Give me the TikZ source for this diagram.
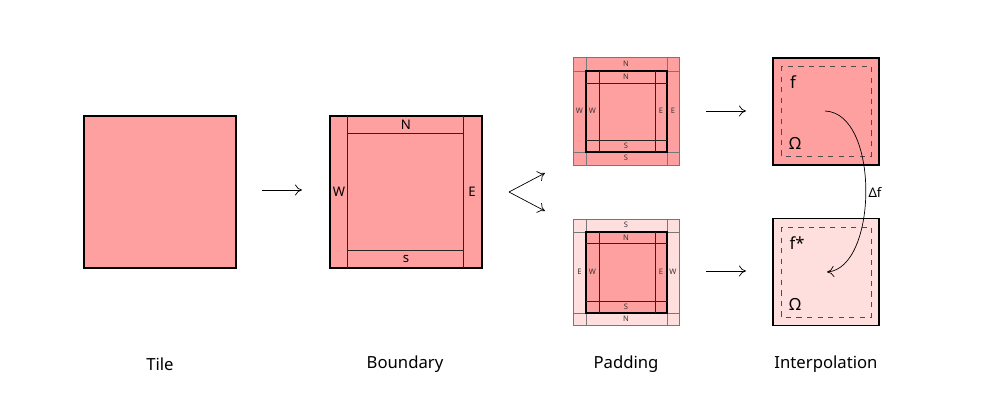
\documentclass[tikz,border=0pt]{standalone}
\usepackage{fontspec}
\setmainfont{Noto Sans}
\usepackage{xcolor}
\definecolor{tilered}{HTML}{FFA0A0}
\definecolor{palered}{HTML}{FFDEDE}
\definecolor{stripgray}{HTML}{777777}
\usepackage{tikz}
\usetikzlibrary{arrows.meta,calc}

\begin{document}
\begin{tikzpicture}[
  x=0.02cm, y=-0.02cm,
  font=\footnotesize,
  block/.style={draw, line width=1.1pt, fill=tilered, inner sep=0pt, outer sep=0pt},
  bigblock/.style={block, minimum width=3.04cm, minimum height=3.04cm},
  padblock/.style={block, minimum width=1.62cm, minimum height=1.62cm, fill=none},
  interblock/.style={block, minimum width=2.12cm, minimum height=2.14cm},
  inner/.style={line width=0.45pt, draw=black!85},
  outer/.style={line width=0.45pt, draw=stripgray},
  lab/.style={font=\fontsize{7.5}{9}\selectfont, inner sep=0pt},
  symlab/.style={font=\fontsize{9.5}{11}\selectfont, inner sep=0pt},
  tinylab/.style={font=\fontsize{4.3}{5}\selectfont, text=black!80, inner sep=0pt},
  caption/.style={font=\fontsize{9.5}{11}\selectfont},
  arr/.style={-{To[length=1.4mm,width=2.2mm]}, line width=0.4pt},
  omega/.style={draw=black!70, dashed, line width=0.5pt}
]
\useasboundingbox (0,0) rectangle (1000,400);

% tile
\node[bigblock] (tile) at (160,192) {};

% boundary
\node[bigblock] (bnd) at (406,192) {};
\draw[inner] ($(bnd.north west)+(17,0)$) -- ($(bnd.south west)+(17,0)$);
\draw[inner] ($(bnd.north east)+(-19,0)$) -- ($(bnd.south east)+(-19,0)$);
\draw[inner] ($(bnd.north west)+(17,17)$) -- ($(bnd.north east)+(-19,17)$);
\draw[inner] ($(bnd.south west)+(17,-18)$) -- ($(bnd.south east)+(-19,-18)$);
\node[lab] at ($(bnd.north)+(0,9)$) {N};
\node[lab] at ($(bnd.south)+(0,-9)$) {s};
\node[lab] at ($(bnd.west)+(9,0)$) {W};
\node[lab] at ($(bnd.east)+(-10,0)$) {E};

% padding, upper copy
\draw[outer, fill=tilered] (573,57) rectangle (679,165);
\draw[outer] (586,57) -- (586,165) (667,57) -- (667,165);
\draw[outer] (573,71) -- (679,71) (573,152) -- (679,152);
\node[padblock] (padA) at (626.5,111.5) {};
\draw[inner] (599,71) -- (599,152) (655,71) -- (655,152);
\draw[inner] (586,83) -- (667,83) (586,140) -- (667,140);
\node[tinylab] at (626,64) {N};
\node[tinylab] at (626,77) {N};
\node[tinylab] at (626,146) {S};
\node[tinylab] at (626,158) {S};
\node[tinylab] at (579.5,111) {W};
\node[tinylab] at (592.5,111) {W};
\node[tinylab] at (661,111) {E};
\node[tinylab] at (673,111) {E};

% padding, lower copy
\draw[outer, fill=palered] (573,219) rectangle (679,325);
\draw[outer] (586,219) -- (586,325) (667,219) -- (667,325);
\draw[outer] (573,232) -- (679,232) (573,313) -- (679,313);
\node[padblock, fill=tilered] (padB) at (626.5,272.5) {};
\draw[inner] (599,232) -- (599,313) (655,232) -- (655,313);
\draw[inner] (586,243) -- (667,243) (586,301) -- (667,301);
\node[tinylab] at (626,225) {S};
\node[tinylab] at (626,238) {N};
\node[tinylab] at (626,307) {S};
\node[tinylab] at (626,319) {N};
\node[tinylab] at (579.5,272) {E};
\node[tinylab] at (592.5,272) {W};
\node[tinylab] at (661,272) {E};
\node[tinylab] at (673,272) {W};

% interpolation
\node[interblock] (intA) at (826,111.5) {};
\node[interblock, fill=palered] (intB) at (826,272) {};
\draw[omega] (781,66) rectangle (871,156);
\draw[omega] (781,227) rectangle (871,317);
\node[symlab] at (793,82) {f};
\node[symlab] at (795,143) {Ω};
\node[symlab] at (797,243) {f*};
\node[symlab] at (795,304) {Ω};
\coordinate (fsrc) at (825,111);
\coordinate (fdst) at (827,272);
\draw[arr] (fsrc) .. controls (880,113) and (878,268) .. (fdst);
\node[lab] at (875,192) {Δf};

% arrows between stages
\coordinate (a1) at (262,190);
\coordinate (a2) at (302,190);
\draw[arr] (a1) -- (a2);
\coordinate (fork) at (509,192);
\coordinate (forkup) at (545,173);
\coordinate (forkdn) at (545,211);
\draw[arr] (fork) -- (forkup);
\draw[arr] (fork) -- (forkdn);
\coordinate (b1) at (706,111);
\coordinate (b2) at (746,111);
\draw[arr] (b1) -- (b2);
\coordinate (c1) at (706,271);
\coordinate (c2) at (746,271);
\draw[arr] (c1) -- (c2);

% captions
\node[caption] (capTile) at (160,364) {Tile};
\node[caption] (capBnd) at (405,364) {Boundary};
\node[caption] (capPad) at (626,364) {Padding};
\node[caption] (capInt) at (826,364) {Interpolation};
\end{tikzpicture}
\end{document}
